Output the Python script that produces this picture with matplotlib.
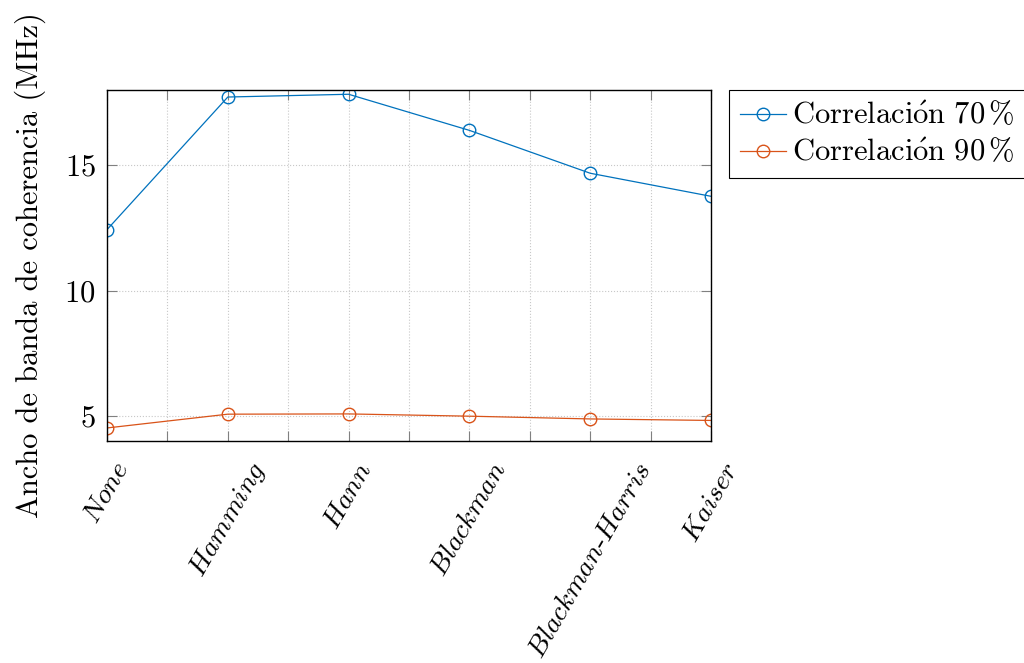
import matplotlib
matplotlib.use('Agg')
import matplotlib.pyplot as plt
from matplotlib.ticker import MultipleLocator, FixedLocator
import numpy as np

windows = ['None', 'Hamming', 'Hann', 'Blackman', 'Blackman-Harris', 'Kaiser']
corr70 = [12.43, 17.72, 17.83, 16.39, 14.68, 13.76]
corr90 = [4.52, 5.07, 5.08, 4.99, 4.88, 4.82]

plt.rcParams['font.family'] = 'serif'
plt.rcParams['font.serif'] = ['cmr10']
plt.rcParams['mathtext.fontset'] = 'cm'
plt.rcParams['axes.formatter.use_mathtext'] = True

fs = 22

fig = plt.figure(figsize=(10.24, 6.63), dpi=100)
ax = fig.add_axes([107/1024, 1 - 441/663, (711 - 107)/1024, (441 - 90)/663])

x = np.arange(len(windows))
ax.plot(x, corr70, 'o-', color='#0072BD', lw=0.9, markerfacecolor='none',
        markeredgewidth=1.0, markersize=9, label=r'$\mathrm{Correlaci\acute{o}n\ 70\,\%}$')
ax.plot(x, corr90, 'o-', color='#D95319', lw=0.9, markerfacecolor='none',
        markeredgewidth=1.0, markersize=9, label=r'$\mathrm{Correlaci\acute{o}n\ 90\,\%}$')

ax.set_xlim(0, 5)
ax.set_ylim(4, 18)
ax.xaxis.set_major_locator(FixedLocator(x))
ax.xaxis.set_minor_locator(MultipleLocator(0.5))
ax.yaxis.set_major_locator(FixedLocator([5, 10, 15]))

# italic tick labels, keep the hyphen as plain text
labels = []
for w in windows:
    labels.append('-'.join(r'$\mathit{%s}$' % p for p in w.split('-')))
ax.set_xticklabels(labels, rotation=60, ha='center', va='top', fontsize=20)
ax.tick_params(axis='y', labelsize=fs)

ax.tick_params(which='both', direction='in', top=True, right=True,
               color='#808080', width=0.8)
ax.tick_params(which='major', length=7)
ax.tick_params(which='minor', length=7)
ax.tick_params(axis='x', pad=12)
ax.tick_params(axis='y', pad=8)

ax.grid(which='major', linestyle=':', color='#c8c8c8', lw=0.8)
ax.grid(which='minor', axis='x', linestyle=':', color='#c8c8c8', lw=0.8)
for s in ax.spines.values():
    s.set_linewidth(1.0)

ax.set_ylabel('Ancho de banda de coherencia (MHz)', fontsize=fs, labelpad=13)

leg = ax.legend(loc='upper left', bbox_to_anchor=(1.03, 1.0), fontsize=fs,
                frameon=True, fancybox=False, edgecolor='black', framealpha=1,
                handlelength=1.5, handletextpad=0.2, borderpad=0.35,
                labelspacing=0.25, borderaxespad=0)
leg.get_frame().set_linewidth(0.8)

fig.savefig('out.png', dpi=100)
